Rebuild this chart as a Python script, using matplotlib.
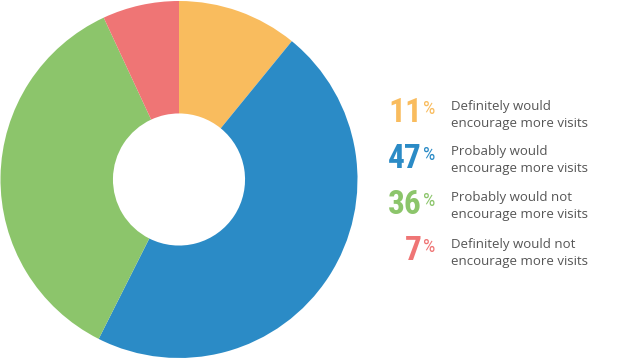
import matplotlib
matplotlib.use("Agg")
import matplotlib.pyplot as plt

# survey shares, clockwise from 12 o'clock
shares = [11, 47, 36, 7]
pct_labels = ["11", "47", "36", "7"]
descriptions = [
    ("Definitely would", "encourage more visits"),
    ("Probably would", "encourage more visits"),
    ("Probably would not", "encourage more visits"),
    ("Definitely would not", "encourage more visits"),
]
colors = ["#F9BC5E", "#2B8BC6", "#8CC56B", "#EF7575"]

W, H = 624, 359
fig = plt.figure(figsize=(W / 100, H / 100), dpi=100)

# donut
ax = fig.add_axes([0.5 / W, 1.0 / H, 357 / W, 357 / H])
ax.pie(shares, colors=colors, startangle=90, counterclock=False,
       wedgeprops=dict(width=0.63, linewidth=0))
ax.set_aspect("equal")
ax.set_xlim(-1, 1)
ax.set_ylim(-1, 1)
ax.axis("off")

# legend drawn in pixel space
lg = fig.add_axes([0, 0, 1, 1])
lg.set_xlim(0, W)
lg.set_ylim(H, 0)
lg.axis("off")

num_font = ["Roboto Condensed", "DejaVu Sans"]
baselines = [122, 167.5, 213.5, 260]
for y, p, (l1, l2), c in zip(baselines, pct_labels, descriptions, colors):
    lg.text(422, y, p, color=c, fontsize=24, fontweight="bold",
            family=num_font, ha="right", va="baseline")
    lg.text(423, y - 8, "%", color=c, fontsize=14,
            family=num_font, ha="left", va="baseline")
    lg.text(451, y - 12, l1, color="#555555", fontsize=9.5,
            family="Open Sans", ha="left", va="baseline")
    lg.text(451, y + 4.5, l2, color="#555555", fontsize=9.5,
            family="Open Sans", ha="left", va="baseline")

fig.savefig("out.png", dpi=100)
